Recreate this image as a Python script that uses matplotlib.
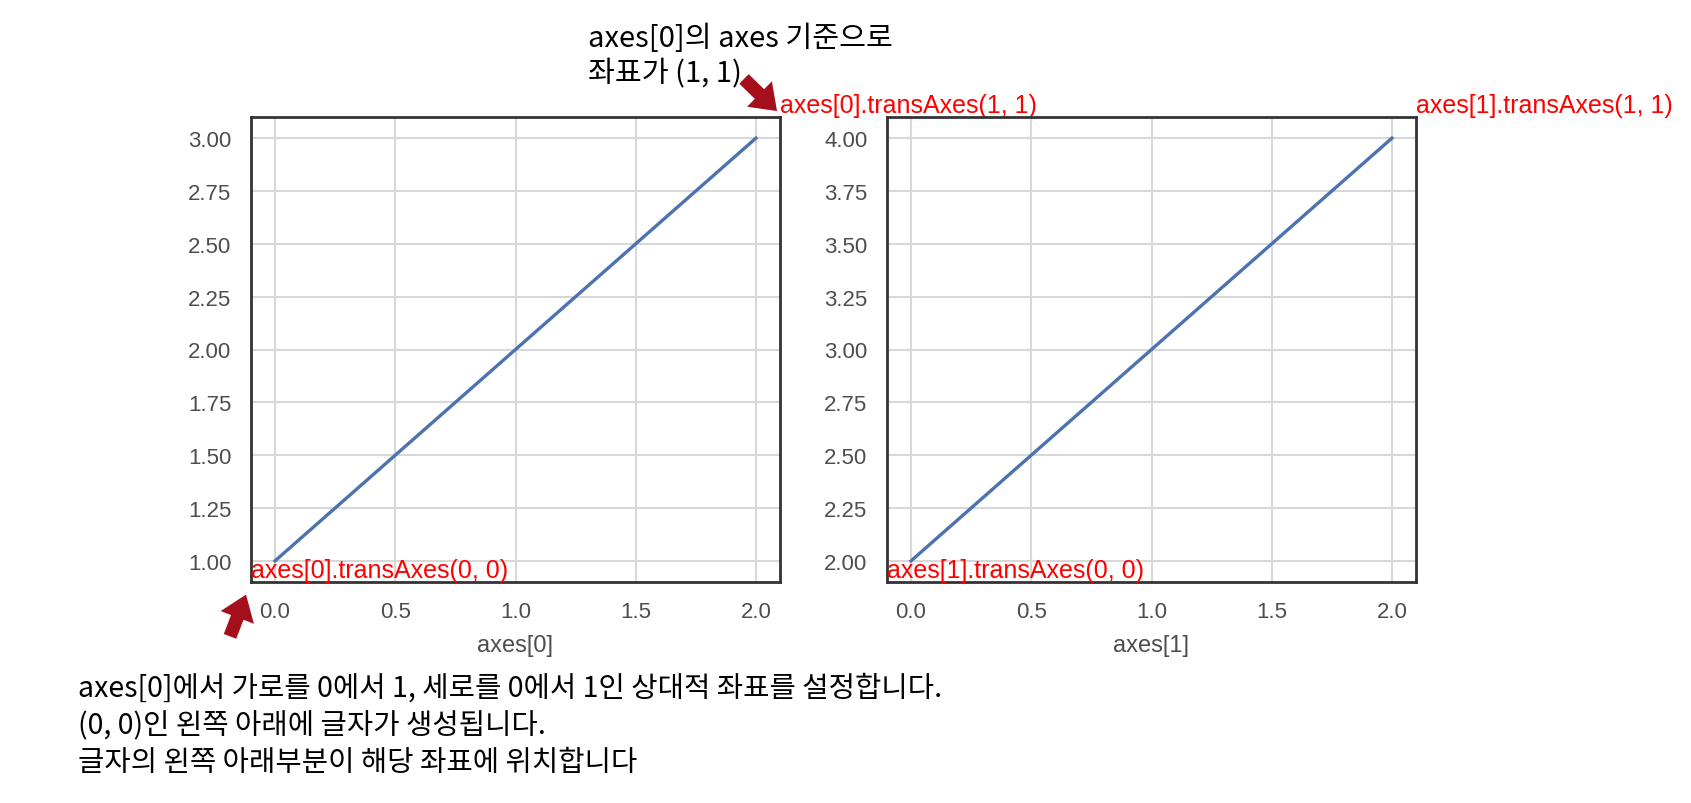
import matplotlib
matplotlib.use("Agg")
import matplotlib.pyplot as plt
from matplotlib.patches import FancyArrowPatch

# data
x_vals = [0, 1, 2]
y_left = [1, 2, 3]
y_right = [2, 3, 4]
ax_names = ["axes[0]", "axes[1]"]
x_ticks = [0, 0.5, 1, 1.5, 2]

top_note = "axes[0]의 axes 기준으로\n좌표가 (1, 1)"
bottom_note = ("axes[0]에서 가로를 0에서 1, 세로를 0에서 1인 상대적 좌표를 설정합니다.\n"
               "(0, 0)인 왼쪽 아래에 글자가 생성됩니다.\n"
               "글자의 왼쪽 아래부분이 해당 좌표에 위치합니다")

W, H = 1691, 804
plt.rcParams['font.family'] = ['Liberation Sans', 'Noto Sans CJK KR']

fig = plt.figure(figsize=(W / 100, H / 100), dpi=100)

def fpos(x, y):
    return (x / W, 1 - y / H)

tick_col = '#4d4d4d'
blue = '#4C72B0'
dark_red = '#a50f1c'

axes = []
for left, ys, name in zip([251, 887], [y_left, y_right], ax_names):
    ax = fig.add_axes([left / W, 1 - 583 / H, 529 / W, 465 / H])
    ax.plot(x_vals, ys, color=blue, lw=2.4)
    ax.grid(True, color='#d8d8d8', lw=1.5)
    ax.set_axisbelow(True)
    for s in ax.spines.values():
        s.set_color('#333333')
        s.set_linewidth(2)
    ax.set_xticks(x_ticks)
    ax.set_xticklabels([f"{v:.1f}" for v in x_ticks])
    ax.set_yticks(ax.get_yticks())
    ax.set_yticklabels([f"{v:.2f}" for v in ax.get_yticks()])
    ax.set_ylim(min(ys) - 0.1, max(ys) + 0.1)
    ax.set_xlim(-0.1, 2.1)
    ax.tick_params(length=0, labelsize=16, labelcolor=tick_col, pad=14)
    ax.set_xlabel(name, fontsize=17, color=tick_col, labelpad=8)
    axes.append(ax)

for i, ax in enumerate(axes):
    ax.text(0, 0, f"axes[{i}].transAxes(0, 0)", transform=ax.transAxes,
            color='red', fontsize=18, ha='left', va='bottom')
    ax.text(1, 1, f"axes[{i}].transAxes(1, 1)", transform=ax.transAxes,
            color='red', fontsize=18, ha='left', va='bottom')

fig.text(*fpos(588, 57), top_note, fontsize=21, va='center', ha='left',
         family=['Noto Sans CJK KR'], linespacing=1.22)
fig.text(*fpos(78, 726), bottom_note, fontsize=20.6, va='center', ha='left',
         family=['Noto Sans CJK KR'], linespacing=1.3)

# arrows
for tail, head in [((742, 78), (779, 114)), ((229, 640), (247, 593))]:
    arr = FancyArrowPatch(fpos(*tail), fpos(*head), transform=fig.transFigure,
                          arrowstyle='simple,head_width=1.6,head_length=1.1,tail_width=0.6',
                          mutation_scale=16, color=dark_red, lw=0)
    fig.add_artist(arr)

fig.savefig("out.png", dpi=100)
